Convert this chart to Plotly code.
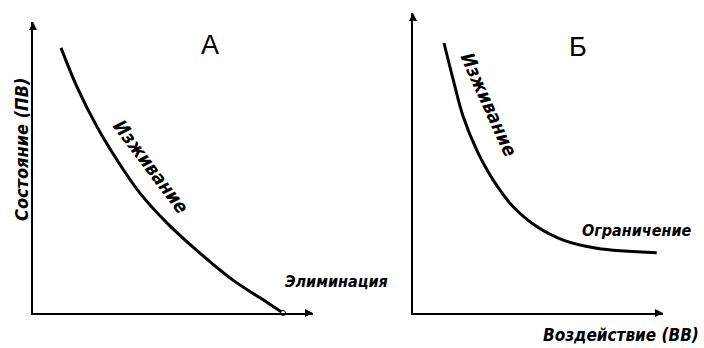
import plotly.graph_objects as go

# Panel A: state falls to zero (elimination)
a_x = [1.0, 1.57, 2.29, 3.0, 3.82, 4.79, 5.96, 7.14, 8.11, 8.93]
a_y = [9.11, 7.77, 6.39, 5.26, 4.12, 3.09, 2.06, 1.13, 0.52, 0.0]

# Panel B: state levels off (limitation)
b_x = [1.24, 1.61, 2.01, 2.55, 3.21, 4.01, 4.95, 6.01, 7.35, 9.75]
b_y = [9.0, 7.77, 6.54, 5.43, 4.43, 3.54, 2.88, 2.43, 2.16, 2.01]

W, H = 704, 348
FAMILY = "DejaVu Sans Condensed, Liberation Sans Narrow, DejaVu Sans, sans-serif"


def label_font(size):
    return dict(family=FAMILY, size=size, color="black", weight="bold", style="italic")


LETTER_FONT = dict(family="Liberation Sans, Arial, sans-serif", size=27, color="black")


def px(x, y):
    return dict(x=x / W, y=1 - y / H, xref="paper", yref="paper")


fig = go.Figure()

fig.add_trace(go.Scatter(x=a_x, y=a_y, mode="lines", line=dict(color="black", width=3, shape="spline"),
                         xaxis="x", yaxis="y", cliponaxis=False))
fig.add_trace(go.Scatter(x=[a_x[-1]], y=[a_y[-1]], mode="markers",
                         marker=dict(symbol="circle", size=5, color="white", line=dict(color="black", width=1)),
                         xaxis="x", yaxis="y", cliponaxis=False))
fig.add_trace(go.Scatter(x=b_x, y=b_y, mode="lines", line=dict(color="black", width=3, shape="spline"),
                         xaxis="x2", yaxis="y2", cliponaxis=False))

# arrow heads at axis ends
for xa, ya in (("x", "y"), ("x2", "y2")):
    fig.add_trace(go.Scatter(x=[10, 0], y=[0, 10], mode="markers",
                             marker=dict(symbol=["arrow-right", "arrow-up"], size=8, color="black",
                                         line=dict(width=0)),
                             xaxis=xa, yaxis=ya, cliponaxis=False))

ax_style = dict(range=[0, 10], showgrid=False, zeroline=False, showticklabels=False, ticks="",
                showline=True, linecolor="black", linewidth=2)

fig.update_layout(
    width=W, height=H,
    margin=dict(l=0, r=0, t=0, b=0),
    paper_bgcolor="white", plot_bgcolor="white",
    showlegend=False,
    xaxis=dict(domain=[33 / W, 313 / W], anchor="y", **ax_style),
    yaxis=dict(domain=[1 - 313 / H, 1 - 22 / H], anchor="x", **ax_style),
    xaxis2=dict(domain=[413 / W, 663 / W], anchor="y2", **ax_style),
    yaxis2=dict(domain=[1 - 313 / H, 1 - 13 / H], anchor="x2", **ax_style),
)

annotations = [
    dict(text="А", font=LETTER_FONT, **px(210, 45)),
    dict(text="Б", font=LETTER_FONT, **px(578, 47)),
    dict(text="Состояние (ПВ)", font=label_font(18), textangle=-90, **px(21, 150)),
    dict(text="Изживание", font=label_font(19), textangle=53, **px(151, 166)),
    dict(text="Элиминация", font=label_font(16), **px(336, 281)),
    dict(text="Изживание", font=label_font(19), textangle=66, **px(489, 104)),
    dict(text="Ограничение", font=label_font(16), **px(636, 230)),
    dict(text="Воздействие (ВВ)", font=label_font(17), **px(621, 335)),
]
for a in annotations:
    fig.add_annotation(showarrow=False, xanchor="center", yanchor="middle", **a)

# page body has a default 8px margin; remove it so the figure sits at the window corner
fig.write_html("out.html", config={"displayModeBar": False},
               post_script="document.body.style.margin='0';")
